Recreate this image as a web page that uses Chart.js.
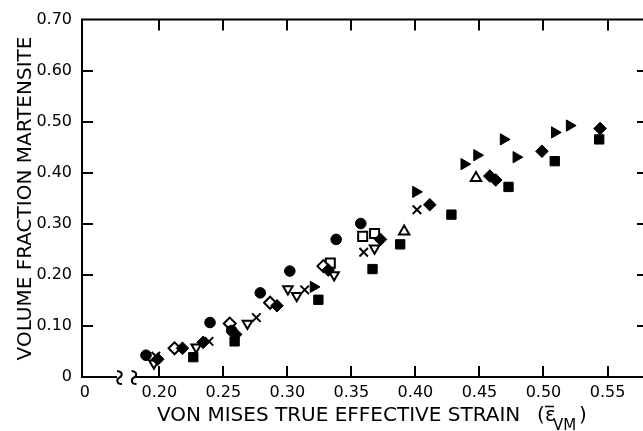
<!DOCTYPE html>
<html><head><meta charset="utf-8">
<script src="https://cdn.jsdelivr.net/npm/chart.js@4/dist/chart.umd.min.js"></script>
<style>html,body{margin:0;padding:0;background:#fff}canvas{display:block}</style>
</head><body>
<canvas id="c" width="643" height="431"></canvas>
<script>
// axis ticks
const xTickValues = [0.20, 0.25, 0.30, 0.35, 0.40, 0.45, 0.50, 0.55];
const yTickValues = [0, 0.10, 0.20, 0.30, 0.40, 0.50, 0.60, 0.70];
const xZeroLabelValue = 0.1419; // broken-axis "0" label position
const xMin = 0.13962, xMax = 0.57115;

// series (x = von Mises strain, y = volume fraction martensite)
const filledCircleX = [0.1896, 0.2396, 0.2565, 0.2788, 0.3019, 0.3381, 0.3573];
const filledCircleY = [0.0427, 0.1067, 0.0911, 0.1648, 0.2075, 0.2695, 0.3006];

const filledSquareX = [0.2265, 0.2588, 0.3242, 0.3665, 0.3881, 0.4281, 0.4727, 0.5088, 0.5435];
const filledSquareY = [0.0388, 0.0698, 0.1513, 0.2114, 0.2598, 0.3180, 0.3723, 0.4227, 0.4654];

const filledDiamondX = [0.1988, 0.2181, 0.2342, 0.2596, 0.2919, 0.3319, 0.3727, 0.4112, 0.4581, 0.4627, 0.4988, 0.5442];
const filledDiamondY = [0.0349, 0.0562, 0.0679, 0.0834, 0.1396, 0.2094, 0.2695, 0.3374, 0.3936, 0.3859, 0.4421, 0.4867];

const openDiamondX = [0.2119, 0.2550, 0.2865, 0.3281];
const openDiamondY = [0.0562, 0.1047, 0.1454, 0.2172];

const openDownTriX = [0.1958, 0.2288, 0.2688, 0.3004, 0.3073, 0.3365, 0.3681];
const openDownTriY = [0.0271, 0.0582, 0.1047, 0.1726, 0.1590, 0.1997, 0.2521];

const openUpTriX = [0.3912, 0.4473];
const openUpTriY = [0.2850, 0.3898];

const crossX = [0.1973, 0.2388, 0.2758, 0.3135, 0.3596, 0.4012];
const crossY = [0.0407, 0.0698, 0.1163, 0.1706, 0.2443, 0.3277];

const openSquareX = [0.3335, 0.3588, 0.3681];
const openSquareY = [0.2230, 0.2754, 0.2812];

const filledRightTriX = [0.3204, 0.4004, 0.4381, 0.4481, 0.4688, 0.4788, 0.5088, 0.5204];
const filledRightTriY = [0.1765, 0.3626, 0.4169, 0.4344, 0.4654, 0.4305, 0.4790, 0.4925];

const FONT = "'DejaVu Sans', sans-serif";
const pts = (xs, ys) => xs.map((x, i) => ({x, y: ys[i]}));
function ds(xs, ys, style, filled, radius, rotation, bw) {
  return {
    data: pts(xs, ys), pointStyle: style, pointRadius: radius, pointRotation: rotation || 0,
    pointBackgroundColor: filled ? '#000' : '#fff', pointBorderColor: '#000',
    pointBorderWidth: bw, showLine: false
  };
}

const framePlugin = {
  id: 'frame',
  afterDraw(chart) {
    const ctx = chart.ctx, a = chart.chartArea;
    const xs = chart.scales.x, ys = chart.scales.y;
    const L = a.left, R = a.right, T = a.top, B = a.bottom;
    ctx.save();
    ctx.strokeStyle = '#000'; ctx.lineWidth = 2; ctx.lineCap = 'butt';
    ctx.beginPath();
    ctx.moveTo(L, T); ctx.lineTo(643, T);          // top
    ctx.moveTo(L, T - 1); ctx.lineTo(L, B + 1);     // left
    ctx.moveTo(L - 1, B); ctx.lineTo(117, B);       // bottom, before break
    ctx.moveTo(135, B); ctx.lineTo(643, B);         // bottom, after break
    ctx.stroke();
    // break symbols
    ctx.lineWidth = 2;
    [119.5, 134].forEach(cx => {
      ctx.beginPath();
      ctx.moveTo(cx - 2.5, 371);
      ctx.bezierCurveTo(cx + 3.5, 371.5, cx + 3, 376, cx, 377.5);
      ctx.bezierCurveTo(cx - 3, 379, cx - 3.5, 384, cx + 2.5, 384);
      ctx.stroke();
    });
    // ticks (inward)
    ctx.beginPath();
    xTickValues.forEach(v => {
      const px = Math.round(xs.getPixelForValue(v));
      ctx.moveTo(px, B); ctx.lineTo(px, B - 11);
      ctx.moveTo(px, T); ctx.lineTo(px, T + 11);
    });
    yTickValues.forEach(v => {
      if (v === 0 || v === 0.70) return;
      const py = Math.round(ys.getPixelForValue(v));
      ctx.moveTo(L, py); ctx.lineTo(L + 11, py);
      ctx.moveTo(643, py); ctx.lineTo(637, py);
    });
    ctx.stroke();
    // axis titles
    ctx.fillStyle = '#000';
    ctx.font = '20px ' + FONT;
    ctx.textAlign = 'left'; ctx.textBaseline = 'alphabetic';
    ctx.fillText('VON MISES TRUE EFFECTIVE STRAIN', 157, 421);
    ctx.fillText('(', 537, 421);
    ctx.fillText('ε', 545, 421);
    ctx.fillText(')', 579, 421);
    ctx.font = '15px ' + FONT;
    ctx.fillText('VM', 553, 430);
    ctx.lineWidth = 1.5;
    ctx.beginPath(); ctx.moveTo(545, 406.5); ctx.lineTo(554, 406.5); ctx.stroke();
    ctx.font = '20px ' + FONT;
    ctx.translate(30.5, 198.5);
    ctx.rotate(-Math.PI / 2);
    ctx.textAlign = 'center';
    ctx.fillText('VOLUME FRACTION MARTENSITE', 0, 0);
    ctx.restore();
  }
};

new Chart(document.getElementById('c'), {
  type: 'scatter',
  data: {
    datasets: [
      ds(filledCircleX, filledCircleY, 'circle', true, 5.3, 0, 1),
      ds(filledSquareX, filledSquareY, 'rect', true, 6.6, 0, 1),
      ds(filledDiamondX, filledDiamondY, 'rectRot', true, 6.3, 0, 1),
      ds(filledRightTriX, filledRightTriY, 'triangle', true, 6.5, 90, 1),
      ds(crossX, crossY, 'crossRot', false, 6, 0, 2),
      ds(openDiamondX, openDiamondY, 'rectRot', false, 6, 0, 2),
      ds(openDownTriX, openDownTriY, 'triangle', false, 5.5, 180, 2),
      ds(openUpTriX, openUpTriY, 'triangle', false, 6, 0, 2),
      ds(openSquareX, openSquareY, 'rect', false, 6.4, 0, 2)
    ]
  },
  options: {
    responsive: false, animation: false, devicePixelRatio: 1,
    layout: { padding: { top: 16, left: 0, right: 0, bottom: 0 } },
    plugins: { legend: { display: false }, tooltip: { enabled: false } },
    scales: {
      x: {
        type: 'linear', min: xMin, max: xMax,
        afterBuildTicks: s => { s.ticks = [{value: xZeroLabelValue}].concat(xTickValues.map(v => ({value: v}))); },
        afterFit: s => { s.height = 54; },
        grid: { display: false, drawTicks: false }, border: { display: false },
        ticks: { autoSkip: false, maxRotation: 0, padding: 6, color: '#000',
          font: { family: FONT, size: 16 },
          callback: v => v < 0.15 ? '0' : v.toFixed(2) }
      },
      y: {
        type: 'linear', min: 0, max: 0.70,
        afterBuildTicks: s => { s.ticks = yTickValues.map(v => ({value: v})); },
        afterFit: s => { s.width = 82; },
        grid: { display: false, drawTicks: false }, border: { display: false },
        ticks: { padding: 10, color: '#000', font: { family: FONT, size: 16 },
          callback: v => v === 0 ? '0' : v.toFixed(2) }
      }
    }
  },
  plugins: [framePlugin]
});
</script>
</body></html>
